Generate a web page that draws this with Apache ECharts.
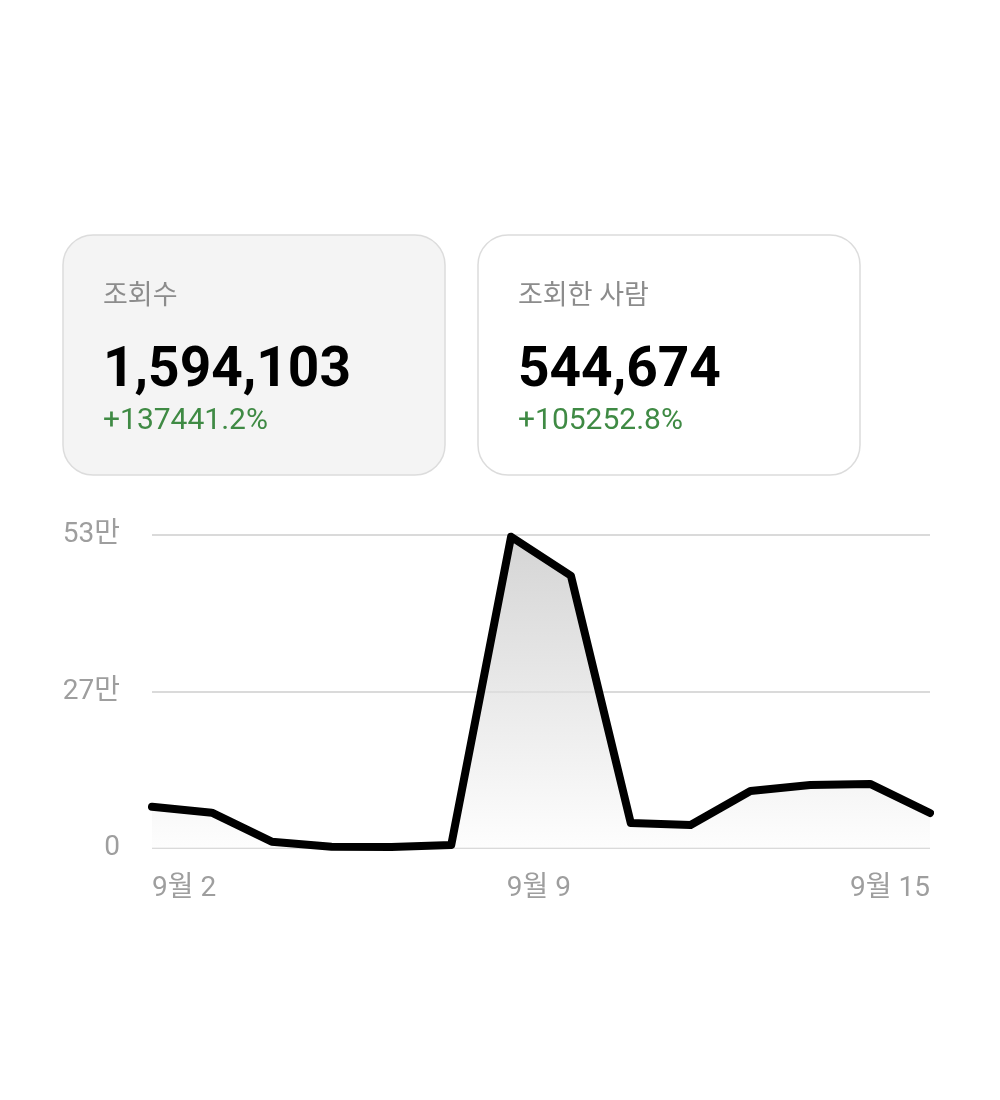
<!DOCTYPE html>
<html>
<head>
<meta charset="utf-8">
<script src="https://cdn.jsdelivr.net/npm/echarts@6/dist/echarts.min.js"></script>
<style>
  html, body { margin: 0; padding: 0; background: #fff; }
  #main { width: 1000px; height: 1100px; }
</style>
</head>
<body>
<div id="main"></div>
<script>
// 카드 데이터
const cardTitles = ['조회수', '조회한 사람'];
const cardValues = ['1,594,103', '544,674'];
const cardChanges = ['+137441.2%', '+105252.8%'];

// 일별 조회수 (9월 2 ~ 9월 15)
const days = ['9월 2', '9월 3', '9월 4', '9월 5', '9월 6', '9월 7', '9월 8',
  '9월 9', '9월 10', '9월 11', '9월 12', '9월 13', '9월 14', '9월 15'];
const views = [70000, 59800, 10700, 2200, 1800, 5100, 527000,
  461000, 42400, 39000, 96600, 106800, 108500, 59300];
const shownDays = ['9월 2', '9월 9', '9월 15'];

const FONT = 'Roboto, "Noto Sans CJK KR", sans-serif';

const chart = echarts.init(document.getElementById('main'));

// 카드 그리기
const cardX = [63, 478];
const cardGraphics = [];
cardTitles.forEach((t, i) => {
  const x = cardX[i];
  cardGraphics.push({
    type: 'rect',
    shape: { x: x, y: 235, width: 382, height: 240, r: 30 },
    style: { fill: i === 0 ? '#f4f4f4' : '#ffffff', stroke: '#dcdcdc', lineWidth: 1.5 }
  });
  cardGraphics.push({
    type: 'text', x: x + 40, y: 297,
    style: { text: t, font: '400 27px ' + FONT, fill: '#8c8c8c', verticalAlign: 'middle' }
  });
  cardGraphics.push({
    type: 'text', x: x + 40, y: 372,
    style: { text: cardValues[i], font: '700 55px ' + FONT, fill: '#000', verticalAlign: 'middle' }
  });
  cardGraphics.push({
    type: 'text', x: x + 40, y: 421,
    style: { text: cardChanges[i], font: '400 30px ' + FONT, fill: '#3f8a44', verticalAlign: 'middle' }
  });
});

chart.setOption({
  animation: false,
  graphic: cardGraphics,
  grid: { left: 152, right: 70, top: 535, bottom: 252 },
  xAxis: {
    type: 'category',
    data: days,
    boundaryGap: false,
    axisLine: { show: false },
    axisTick: { show: false },
    axisLabel: {
      interval: (i, v) => shownDays.includes(v),
      color: '#9e9e9e',
      fontSize: 28,
      fontFamily: FONT,
      margin: 27,
      align: 'right',
      alignMinLabel: 'left',
      alignMaxLabel: 'right'
    }
  },
  yAxis: {
    type: 'value',
    min: 0,
    max: 530000,
    interval: 265000,
    axisLine: { show: false },
    axisTick: { show: false },
    axisLabel: {
      color: '#9e9e9e',
      fontSize: 28,
      fontFamily: FONT,
      margin: 32,
      formatter: (v) => v === 0 ? '0' : Math.round(v / 10000) + '만'
    },
    splitLine: { lineStyle: { color: '#dadada', width: 2 } }
  },
  series: [{
    type: 'line',
    data: views,
    symbol: 'none',
    lineStyle: { color: '#000', width: 8, join: 'round', cap: 'round' },
    areaStyle: {
      color: new echarts.graphic.LinearGradient(0, 0, 0, 1, [
        { offset: 0, color: '#c2c2c2' },
        { offset: 1, color: '#fcfcfc' }
      ])
    }
  }]
});
</script>
</body>
</html>
